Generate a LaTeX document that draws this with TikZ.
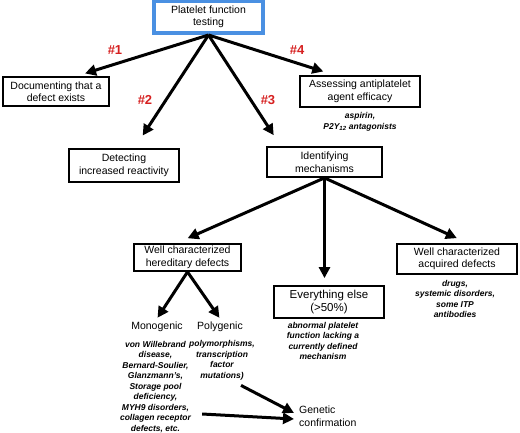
\documentclass[tikz,border=0pt]{standalone}
\usepackage{fontspec}
\setmainfont{Liberation Sans}
\usepackage{xcolor}
\usetikzlibrary{arrows.meta}
\usetikzlibrary{calc}
\definecolor{hashred}{RGB}{214,32,32}
\definecolor{topblue}{RGB}{74,144,226}

\begin{document}
\begin{tikzpicture}[x=1pt, y=-1pt]
 	  \tikzstyle{every node}=[font=\fontsize{10.5}{12.5}\selectfont]
 	  \tikzstyle{box}=[draw=black, line width=1.8pt, align=center, inner sep=0pt]
 	  \tikzstyle{note}=[align=center, inner sep=0pt, font=\fontsize{8.5}{10.5}\selectfont\bfseries\itshape]
 	  \tikzstyle{num}=[text=hashred, font=\fontsize{13}{15}\selectfont\bfseries]
 	  \tikzstyle{link}=[-{Triangle[length=11pt,width=11pt]}, line width=3pt]
\useasboundingbox (0,0) rectangle (520,433);
    % boxes
    \node[box, draw=topblue, line width=4pt, minimum width=109pt, minimum height=32pt] (top) at (208.5,17) {Platelet function\\testing};
    \node[box, minimum width=106pt, minimum height=29pt] (doc) at (56,91.5) {Documenting that a\\defect exists};
    \node[box, minimum width=120pt, minimum height=31pt] (assess) at (360,91.5) {Assessing antiplatelet\\agent efficacy};
    \node[box, minimum width=110pt, minimum height=33pt] (detect) at (124,165.5) {Detecting\\increased reactivity};
    \node[box, minimum width=115pt, minimum height=30pt] (ident) at (324.5,162) {Identifying\\mechanisms};
    \node[box, minimum width=107pt, minimum height=27pt] (hered) at (187.5,257.5) {Well characterized\\hereditary defects};
    \node[box, minimum width=120pt, minimum height=30pt] (acq) at (457,259) {Well characterized\\acquired defects};
    \node[box, minimum width=110pt, minimum height=32pt, font=\fontsize{11.5}{13.5}\selectfont] (every) at (329,302) {Everything else\\(>50\%)};
    % numbers
    \node[num] (n1) at (115,50) {\#1};
    \node[num] (n2) at (145,100) {\#2};
    \node[num] (n3) at (268,100) {\#3};
    \node[num] (n4) at (297,50) {\#4};
    % notes
    \node[note] (assessnote) at (360,122) {aspirin,\\P2Y\textsubscript{12} antagonists};
    \node[note] (acqnote) at (455,299) {drugs,\\systemic disorders,\\some ITP\\antibodies};
    \node[note] (everynote) at (323,341) {abnormal platelet\\function lacking a\\currently defined\\mechanism};
    \node (mono) at (157,327) {Monogenic};
    \node (poly) at (220,327) {Polygenic};
    \node[note] (monod) at (155.5,387) {von Willebrand\\disease,\\Bernard-Soulier,\\Glanzmann's,\\Storage pool\\deficiency,\\MYH9 disorders,\\collagen receptor\\defects, etc.};
    \node[note] (polyd) at (222,360.5) {polymorphisms,\\transcription\\factor\\mutations)};
    \node[align=left, inner sep=0pt, anchor=west] (gen) at (299,416) {Genetic\\confirmation};
    % arrows
\foreach \tgt/\ang/\cut in {doc/37/9, detect/59/15, ident/160/13, assess/147/12}{
    \draw[link, shorten >=\cut pt] (top.south) -- (\tgt.\ang);
      }
\foreach \tgt/\ang/\cut in {hered/127/12, acq/56/12}{
    \draw[link, shorten >=\cut pt] (ident.south) -- (\tgt.\ang);
      }
    \draw[link, shorten >=7pt] (ident.south) -- (ident.south |- every.north);
    \draw[link, shorten >=1pt] (hered.south) -- (mono.north);
    \draw[link, shorten >=1pt] (hered.south) -- (poly.north);
    \draw[link] ([shift={(-14,5)}]polyd.south east) -- ([shift={(-5,-3)}]gen.west);
    \draw[link] ([shift={(11,27)}]monod.east) -- ([shift={(-5,3)}]gen.west);
   \end{tikzpicture}
\end{document}
